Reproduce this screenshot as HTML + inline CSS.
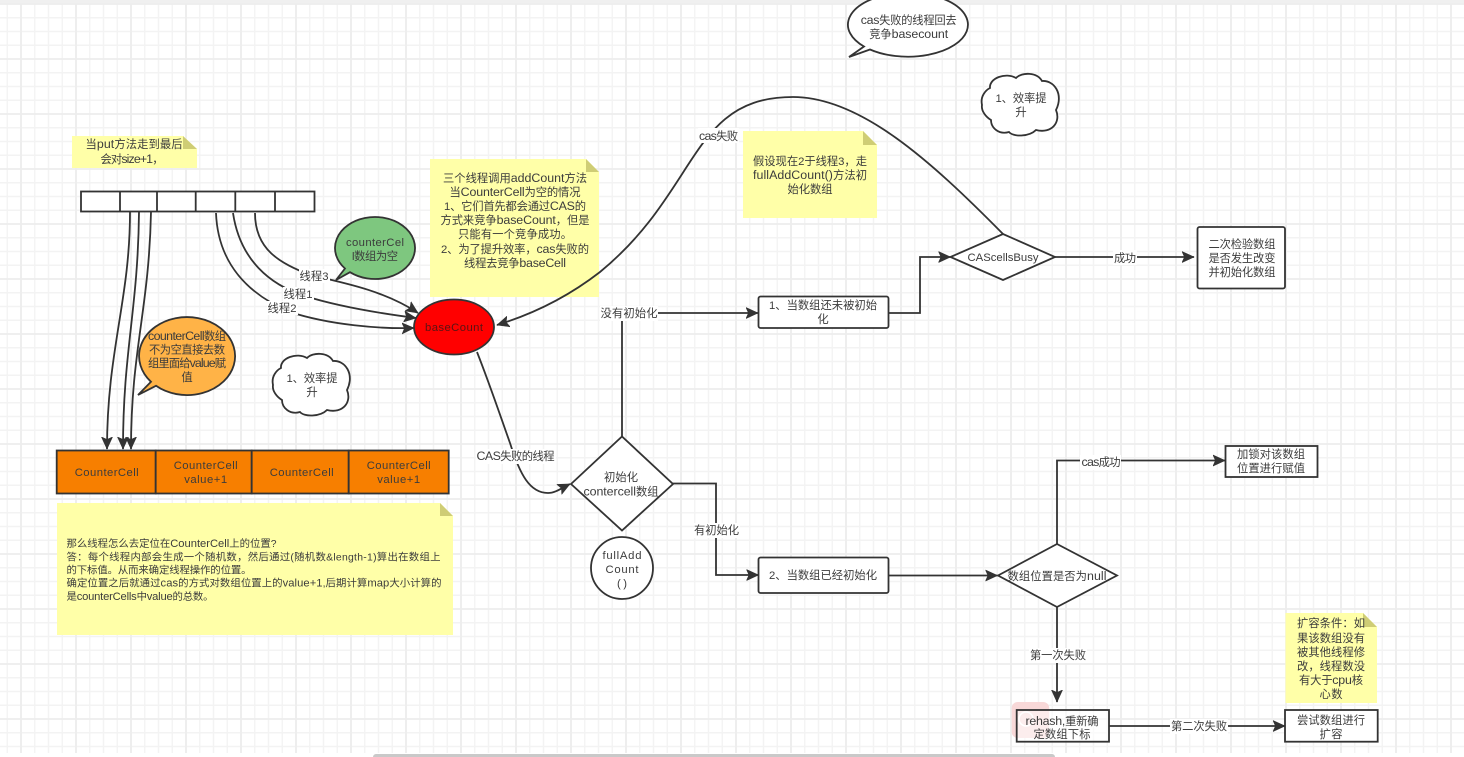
<!DOCTYPE html>
<html>
<head>
<meta charset="utf-8">
<style>
html,body{margin:0;padding:0;background:#fff;width:1464px;height:757px;overflow:hidden}
svg{display:block}
text{font-family:"Liberation Sans","Noto Sans CJK SC",sans-serif;font-size:11.3px;fill:#3c3c3c;text-anchor:middle}
text.l{text-anchor:start;font-size:10.4px}
tspan.e{font-size:12.4px}
text.l tspan.e{font-size:11.2px}
.s{fill:none;stroke:#333;stroke-width:1.8}
.b{fill:#fff;stroke:#333;stroke-width:1.8}
.a{marker-end:url(#ar)}
.n{fill:#ffffa8}
.f{fill:#cfcd75}
.w{fill:#fff}
</style>
</head>
<body>
<svg width="1464" height="757" viewBox="0 0 1464 757" xmlns="http://www.w3.org/2000/svg">
<defs>
<pattern id="gr" width="55" height="55" patternUnits="userSpaceOnUse" patternTransform="translate(21 4)">
<path d="M13.75 0V55M27.5 0V55M41.25 0V55M0 13.75H55M0 27.5H55M0 41.25H55" stroke="#f3f3f3" stroke-width="1.4" fill="none"/>
<path d="M0 0V55M0 0H55" stroke="#ededed" stroke-width="1.8" fill="none"/>
<path d="M55 0V55M0 55H55" stroke="#ededed" stroke-width="1.8" fill="none"/>
</pattern>
<marker id="ar" markerUnits="userSpaceOnUse" markerWidth="16" markerHeight="14" refX="12" refY="7" orient="auto">
<path d="M0 1.5 L12 7 L0 12.5 L2.5 7Z" fill="#333" stroke="#333" stroke-width=".6"/>
</marker>
</defs>
<rect width="1464" height="757" fill="#fff"/>
<rect width="1464" height="753" fill="url(#gr)"/>
<rect width="1464" height="3.5" fill="#f0f0f0"/>

<!-- sticky notes -->
<path class="n" d="M72 136H183L197 149V168H72Z"/><path class="f" d="M183 136L197 149H183Z"/>
<text x="134" y="148" textLength="97">当<tspan class="e">put</tspan>方法走到最后</text>
<text x="132" y="163" textLength="63">会对<tspan class="e">size+1</tspan>，</text>

<path class="n" d="M430 159H586L599 172V297H430Z"/><path class="f" d="M586 159L599 172H586Z"/>
<text x="515" y="182" textLength="144">三个线程调用<tspan class="e">addCount</tspan>方法</text>
<text x="515" y="196" textLength="131">当<tspan class="e">CounterCell</tspan>为空的情况</text>
<text x="515" y="210" textLength="142">1、它们首先都会通过<tspan class="e">CAS</tspan>的</text>
<text x="515" y="224" textLength="149">方式来竞争<tspan class="e">baseCount</tspan>，但是</text>
<text x="515" y="238" textLength="114">只能有一个竞争成功。</text>
<text x="515" y="253" textLength="148">2、为了提升效率，<tspan class="e">cas</tspan>失败的</text>
<text x="515" y="267" textLength="102">线程去竞争<tspan class="e">baseCell</tspan></text>

<path class="n" d="M743 131H863L877 145V218H743Z"/><path class="f" d="M863 131L877 145H863Z"/>
<text x="810" y="165" textLength="114">假设现在2于线程3，走</text>
<text x="810" y="179" textLength="114"><tspan class="e">fullAddCount()</tspan>方法初</text>
<text x="810" y="193" textLength="45">始化数组</text>

<path class="n" d="M57 503H440L453 516V635H57Z"/><path class="f" d="M440 503L453 516H440Z"/>
<text class="l" x="66.5" y="547" textLength="210">那么线程怎么去定位在<tspan class="e">CounterCell</tspan>上的位置?</text>
<text class="l" x="66.5" y="560.5" textLength="374">答：每个线程内部会生成一个随机数，然后通过(随机数&amp;length-1)算出在数组上</text>
<text class="l" x="66.5" y="573.5" textLength="185">的下标值。从而来确定线程操作的位置。</text>
<text class="l" x="66.5" y="586.5" textLength="375">确定位置之后就通过<tspan class="e">cas</tspan>的方式对数组位置上的<tspan class="e">value+1</tspan>,后期计算<tspan class="e">map</tspan>大小计算的</text>
<text class="l" x="66.5" y="600" textLength="147">是<tspan class="e">counterCells</tspan>中<tspan class="e">value</tspan>的总数。</text>

<path class="n" d="M1285.5 613H1363L1377 627V703H1285.5Z"/><path class="f" d="M1363 613L1377 627H1363Z"/>
<text x="1331" y="627" textLength="68">扩容条件：如</text>
<text x="1331" y="642" textLength="68">果该数组没有</text>
<text x="1331" y="656" textLength="68">被其他线程修</text>
<text x="1331" y="670" textLength="68">改，线程数没</text>
<text x="1331" y="684" textLength="64">有大于<tspan class="e">cpu</tspan>核</text>
<text x="1331" y="698" textLength="23">心数</text>

<!-- array -->
<rect class="b" x="81" y="191.5" width="233.5" height="20"/>
<path class="s" d="M120 191.5V211.5M157 191.5V211.5M195.7 191.5V211.5M235.3 191.5V211.5M275 191.5V211.5"/>

<!-- array to CounterCell -->
<path class="s a" d="M130 212C130 300 107 350 107 449"/>
<path class="s a" d="M139 212C138 310 123 350 123 449"/>
<path class="s a" d="M151 212C149 310 131 350 131 449"/>

<!-- threads to baseCount -->
<path class="s a" d="M255 213C255 250 280 263 310 275C345 283 385 291 418 313"/>
<path class="s a" d="M233 213C240 260 270 285 305 296C340 307 385 314 416 318"/>
<path class="s a" d="M216 213C218 265 250 295 290 312C330 325 380 329 414 328"/>
<rect class="w" x="299" y="269" width="31" height="14"/>
<rect class="w" x="283" y="287" width="31" height="14"/>
<rect class="w" x="267" y="301" width="31" height="14"/>
<text x="314" y="280" textLength="29">线程3</text>
<text x="298" y="298" textLength="29">线程1</text>
<text x="282" y="312" textLength="29">线程2</text>

<!-- big arc -->
<path class="s a" d="M1003 234C930 160 860 97 793 97C690 97 700 190 600 272C560 303 520 318 497 325"/>
<rect class="w" x="698" y="128" width="41" height="15"/>
<text x="718.5" y="140" textLength="39"><tspan class="e">cas</tspan>失败</text>

<!-- CAS fail edge -->
<path class="s a" d="M477 352C490 385 500 415 510 443C520 475 530 493 548 493C555 493 562 488 570 484"/>
<rect class="w" x="476" y="449" width="80" height="15"/>
<text x="515.5" y="460" textLength="78"><tspan class="e">CAS</tspan>失败的线程</text>

<!-- flow edges -->
<path class="s a" d="M622 436.5V313H758"/>
<rect class="w" x="600" y="306" width="58" height="15"/>
<text x="629" y="317" textLength="57">没有初始化</text>
<path class="s a" d="M888.5 313H920V257H950.5"/>
<path class="s a" d="M1055 257H1194"/>
<rect class="w" x="1113" y="250" width="24" height="15"/>
<text x="1125" y="262" textLength="22">成功</text>
<path class="s a" d="M673 483.5H716V575H758.5"/>
<rect class="w" x="694" y="523" width="46" height="15"/>
<text x="716.5" y="534" textLength="45">有初始化</text>
<path class="s a" d="M888.5 575.5H997.5"/>
<path class="s a" d="M1057 544V460.5H1225"/>
<rect class="w" x="1080" y="455" width="41" height="15"/>
<text x="1101" y="466" textLength="39"><tspan class="e">cas</tspan>成功</text>
<path class="s a" d="M1057 607V702"/>
<rect class="w" x="1029" y="648" width="58" height="15"/>
<text x="1058" y="659" textLength="56">第一次失败</text>
<path class="s a" d="M1109 726H1285"/>
<rect class="w" x="1170" y="719" width="58" height="15"/>
<text x="1199" y="730" textLength="56">第二次失败</text>

<!-- CounterCell row -->
<g fill="#f77f00" stroke="#333" stroke-width="1.8">
<rect x="56.7" y="450.5" width="99" height="43"/>
<rect x="155.7" y="450.5" width="96" height="43"/>
<rect x="251.7" y="450.5" width="97" height="43"/>
<rect x="348.7" y="450.5" width="100" height="43"/>
</g>
<text x="106.7" y="476" textLength="64">CounterCell</text>
<text x="205.7" y="469" textLength="64">CounterCell</text>
<text x="205.7" y="483" textLength="43">value+1</text>
<text x="301.7" y="476" textLength="64">CounterCell</text>
<text x="398.7" y="469" textLength="64">CounterCell</text>
<text x="398.7" y="483" textLength="43">value+1</text>

<!-- bubbles -->
<path d="M345 268.5L336 280L350 272.2A40 31 0 1 0 345 268.5Z" fill="#7ec77f" stroke="#333" stroke-width="1.8"/>
<text x="375" y="246" textLength="58">counterCel</text>
<text x="375" y="260" textLength="46">l数组为空</text>

<path d="M151 381.8L138 395L156 385.8A48 39 0 1 0 151 381.8Z" fill="#ffb347" stroke="#333" stroke-width="1.8"/>
<text x="187" y="340" textLength="78"><tspan class="e">counterCell</tspan>数组</text>
<text x="187" y="353.5" textLength="76">不为空直接去数</text>
<text x="187" y="367" textLength="78">组里面给<tspan class="e">value</tspan>赋</text>
<text x="187" y="381" textLength="11">值</text>

<path d="M864 46.5L849 57L870 49.5A60 32 0 1 0 864 46.5Z" fill="#fff" stroke="#333" stroke-width="1.8"/>
<text x="908.7" y="24" textLength="96"><tspan class="e">cas</tspan>失败的线程回去</text>
<text x="908.7" y="38" textLength="79">竞争<tspan class="e">basecount</tspan></text>

<!-- clouds -->
<path id="c1" class="b" d="M273 385C271 376 277 370 281 368C280 358 297 352 307 358C313 352 328 352 333 361C345 360 355 374 347 390C352 402 343 414 327 410C320 417 304 417 300 412C290 415 282 408 282 400C277 397 272 391 273 385Z"/>
<text x="312" y="382" textLength="51">1、效率提</text>
<text x="312" y="396" textLength="11">升</text>
<path class="b" transform="translate(709 -280)" d="M273 385C271 376 277 370 281 368C280 358 297 352 307 358C313 352 328 352 333 361C345 360 355 374 347 390C352 402 343 414 327 410C320 417 304 417 300 412C290 415 282 408 282 400C277 397 272 391 273 385Z"/>
<text x="1021" y="102" textLength="51">1、效率提</text>
<text x="1021" y="116" textLength="11">升</text>

<!-- baseCount -->
<ellipse cx="454" cy="327" rx="40" ry="27.5" fill="#ff0000" stroke="#333" stroke-width="1.8"/>
<text x="454" y="331" textLength="58" style="fill:#5a1414">baseCount</text>

<!-- nodes -->
<rect class="b" x="758.5" y="296.5" width="130" height="31.5" rx="2"/>
<text x="823" y="309" textLength="108">1、当数组还未被初始</text>
<text x="823" y="323" textLength="11">化</text>

<polygon class="b" points="950.5,257 1003,234 1055,257 1003,280"/>
<text x="1003" y="261" textLength="71">CAScellsBusy</text>

<rect class="b" x="1197.5" y="227" width="87.5" height="61.5" rx="2"/>
<text x="1242" y="248" textLength="67">二次检验数组</text>
<text x="1242" y="262" textLength="67">是否发生改变</text>
<text x="1242" y="276" textLength="67">并初始化数组</text>

<polygon class="b" points="571,484 622,436.5 673,484 622,530.5"/>
<text x="621" y="481" textLength="34">初始化</text>
<text x="621" y="495.5" textLength="75"><tspan class="e">contercell</tspan>数组</text>

<circle class="b" cx="622" cy="568" r="31"/>
<text x="622" y="559" textLength="39">fullAdd</text>
<text x="622" y="573" textLength="33">Count</text>
<text x="622" y="587" textLength="10">()</text>

<rect class="b" x="758.5" y="557.5" width="130" height="35.5" rx="2"/>
<text x="823" y="579" textLength="108">2、当数组已经初始化</text>

<polygon class="b" points="998,575.5 1057,544 1117,575.5 1057,607"/>
<text x="1057" y="580" textLength="99">数组位置是否为<tspan class="e">null</tspan></text>

<rect class="b" x="1225.5" y="446" width="92" height="31"/>
<text x="1271" y="458" textLength="68">加锁对该数组</text>
<text x="1271" y="472" textLength="68">位置进行赋值</text>

<rect x="1011.7" y="702" width="37.5" height="36" rx="6" fill="#f8d8d8"/>
<rect x="1016.7" y="710" width="92.3" height="31.7" fill="#fff" fill-opacity=".55" stroke="#333" stroke-width="1.8"/>
<circle cx="1026" cy="719" r="7" fill="none" stroke="#fff" stroke-width="1.5"/>
<text x="1062" y="725" textLength="73"><tspan class="e">rehash,</tspan>重新确</text>
<text x="1062" y="738" textLength="57">定数组下标</text>

<rect class="b" x="1285" y="710" width="92.7" height="31.7"/>
<text x="1331" y="724" textLength="68">尝试数组进行</text>
<text x="1331" y="738" textLength="23">扩容</text>

<!-- scrollbar -->
<rect x="373" y="754" width="682" height="6" rx="3" fill="#c9c9c9"/>
</svg>
</body>
</html>
